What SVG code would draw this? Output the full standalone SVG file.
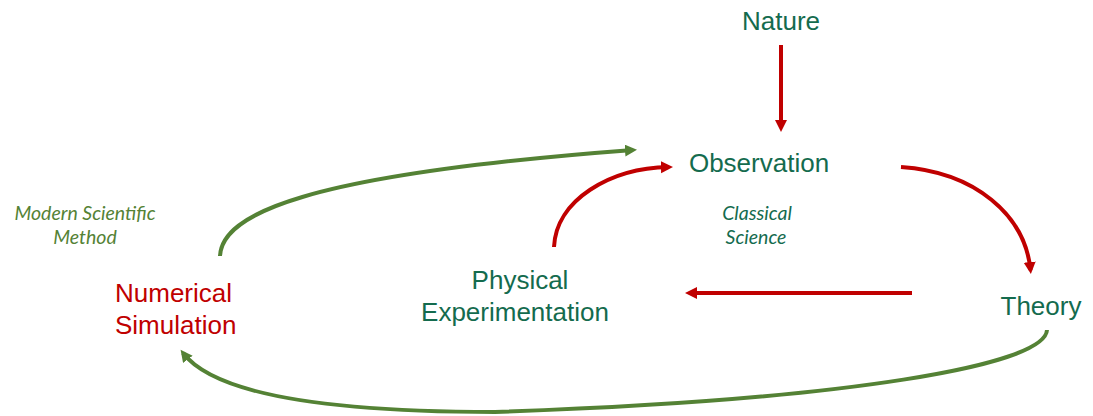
<svg xmlns="http://www.w3.org/2000/svg" width="1093" height="416" viewBox="0 0 1093 416">
<defs>
<style>
.t{font-family:"Liberation Sans",Arial,sans-serif;font-size:26px;fill:#146B4E}
.r{fill:#C00000}
.i{font-family:Lato,"Open Sans",sans-serif;font-style:italic;font-size:19.5px}
.ig{fill:#548235}
.it{fill:#146B4E}
.cr{fill:none;stroke:#C00000;stroke-width:4}
.cg{fill:none;stroke:#548235;stroke-width:4}
</style>
<marker id="ar" markerUnits="userSpaceOnUse" markerWidth="14" markerHeight="14" refX="8" refY="6" orient="auto"><path d="M0,0 L12,6 L0,12 z" fill="#C00000"/></marker>
<marker id="ag" markerUnits="userSpaceOnUse" markerWidth="14" markerHeight="14" refX="8" refY="6" orient="auto"><path d="M0,0 L12,6 L0,12 z" fill="#548235"/></marker>
</defs>
<rect width="1093" height="416" fill="#fff"/>
<g id="connectors">
<path class="cr" d="M781,45 L781,128" marker-end="url(#ar)"/>
<path class="cr" d="M901,167 C975,172 1025,215 1030.5,270" marker-end="url(#ar)"/>
<path class="cr" d="M912,293 L689,293" marker-end="url(#ar)"/>
<path class="cr" d="M554,247 C556,200 610,168 669,167" marker-end="url(#ar)"/>
<path class="cg" d="M220,256 C222,215 300,175 633,150" marker-end="url(#ag)"/>
<path class="cg" d="M1047,330 C1045,365 850,400 495,412 C330,412 215,395 183,353" marker-end="url(#ag)"/>
</g>
<g id="nature"><text class="t" x="781" y="30" text-anchor="middle">Nature</text></g>
<g id="observation"><text class="t" x="759" y="172" text-anchor="middle">Observation</text></g>
<g id="theory"><text class="t" x="1041" y="315" text-anchor="middle">Theory</text></g>
<g id="physical"><text class="t" x="517" y="289" text-anchor="middle"><tspan x="520">Physical</tspan><tspan x="515" y="321">Experimentation</tspan></text></g>
<g id="numerical"><text class="t r" x="115" y="302">Numerical<tspan x="115" y="334">Simulation</tspan></text></g>
<g id="modern"><text class="i ig" x="85" y="220" text-anchor="middle">Modern Scientific<tspan x="85" y="244">Method</tspan></text></g>
<g id="classical"><text class="i it" x="757" y="220" text-anchor="middle">Classical<tspan x="756" y="244">Science</tspan></text></g>
</svg>
